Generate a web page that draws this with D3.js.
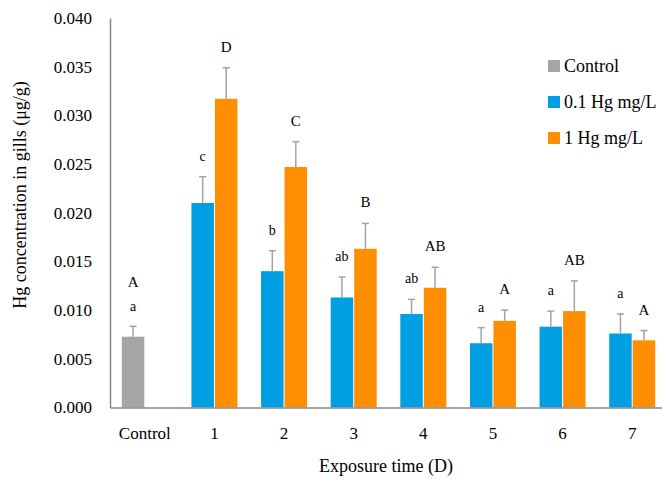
<!DOCTYPE html>
<html>
<head>
<meta charset="utf-8">
<script src="https://cdn.jsdelivr.net/npm/d3@7"></script>
<style>
  body { margin: 0; background: #fff; }
  svg text { font-family: 'Liberation Serif', 'Times New Roman', serif; fill: #000; }
</style>
</head>
<body>
<div id="chart"></div>
<script>
const categories = ['Control', '1', '2', '3', '4', '5', '6', '7'];
const yTicks = [0, 0.005, 0.010, 0.015, 0.020, 0.025, 0.030, 0.035, 0.040];

// control group
const controlMean = 0.00727;
const controlErr = 0.00106;
const controlLetters = ['a', 'A'];

// 0.1 Hg mg/L, days 1-7
const lowMean = [0.0210, 0.0140, 0.0113, 0.0096, 0.0066, 0.0083, 0.0076];
const lowErr = [0.0027, 0.0021, 0.0021, 0.0015, 0.0016, 0.0016, 0.0020];
const lowLetters = ['c', 'b', 'ab', 'ab', 'a', 'a', 'a'];

// 1 Hg mg/L, days 1-7
const highMean = [0.0317, 0.0247, 0.0163, 0.0123, 0.0089, 0.0099, 0.0069];
const highErr = [0.0032, 0.0026, 0.0026, 0.0021, 0.0011, 0.0031, 0.0010];
const highLetters = ['D', 'C', 'B', 'AB', 'A', 'AB', 'A'];

const legendItems = ['Control', '0.1 Hg mg/L', '1 Hg mg/L'];
const colors = { control: '#a5a5a5', low: '#009fe3', high: '#ff8f00' };

// build bar rows from the arrays above
const bars = [{ cat: 'Control', slot: 'low', value: controlMean, err: controlErr, key: 'control' }];
for (let i = 0; i < lowMean.length; i += 1) {
  bars.push({ cat: categories[i + 1], slot: 'low', value: lowMean[i], err: lowErr[i], key: 'low', letter: lowLetters[i] });
  bars.push({ cat: categories[i + 1], slot: 'high', value: highMean[i], err: highErr[i], key: 'high', letter: highLetters[i] });
}

const width = 662;
const height = 483;
const left = 110;
const bottom = 407.5;
const serif = "'Liberation Serif', 'Times New Roman', serif";

const svg = d3.select('#chart').append('svg')
  .attr('width', width)
  .attr('height', height)
  .attr('font-family', serif);

const x = d3.scaleBand()
  .domain(categories)
  .range([left, 667]);

const barW = 23.5;
const xSub = d3.scaleBand()
  .domain(['low', 'high'])
  .range([x.bandwidth() / 2 - barW, x.bandwidth() / 2 + barW]);

const y = d3.scaleLinear()
  .domain([0, 0.04])
  .range([bottom, 18]);

// bars
svg.selectAll('.bar')
  .data(bars)
  .enter()
  .append('rect')
    .attr('class', 'bar')
    .attr('x', d => x(d.cat) + xSub(d.slot) + 0.5)
    .attr('width', xSub.bandwidth() - 1)
    .attr('y', d => y(d.value))
    .attr('height', d => y(0) - y(d.value))
    .attr('fill', d => colors[d.key]);

// error bars
const cx = d => x(d.cat) + xSub(d.slot) + xSub.bandwidth() / 2;
svg.selectAll('.err')
  .data(bars)
  .enter()
  .append('line')
    .attr('class', 'err')
    .attr('x1', cx)
    .attr('x2', cx)
    .attr('y1', d => y(d.value))
    .attr('y2', d => y(d.value + d.err))
    .attr('stroke', '#a3a3a3')
    .attr('stroke-width', 1.5);

svg.selectAll('.cap')
  .data(bars)
  .enter()
  .append('line')
    .attr('class', 'cap')
    .attr('x1', d => cx(d) - 3.5)
    .attr('x2', d => cx(d) + 3.5)
    .attr('y1', d => y(d.value + d.err))
    .attr('y2', d => y(d.value + d.err))
    .attr('stroke', '#a3a3a3')
    .attr('stroke-width', 1.5);

// significance letters
svg.selectAll('.letter')
  .data(bars.filter(d => d.letter))
  .enter()
  .append('text')
    .attr('class', 'letter')
    .attr('x', cx)
    .attr('y', d => y(d.value + d.err) - 16)
    .attr('text-anchor', 'middle')
    .style('font-size', d => (d.letter === d.letter.toUpperCase() ? '15px' : '14px'))
    .text(d => d.letter);

const control = bars[0];
controlLetters.forEach(function (l, i) {
  svg.append('text')
    .attr('x', cx(control))
    .attr('y', y(control.value + control.err) - 15 - i * 24)
    .attr('text-anchor', 'middle')
    .style('font-size', i === 0 ? '14px' : '15px')
    .text(l);
});

// axes
const yAxis = svg.append('g')
  .attr('transform', `translate(${left},0)`)
  .call(d3.axisLeft(y).tickValues(yTicks).tickFormat(d3.format('.3f')).tickSize(0).tickSizeOuter(0).tickPadding(18))
  .attr('font-family', serif)
  .attr('font-size', 17);

yAxis.select('.domain').attr('stroke', '#888').attr('stroke-width', 1.5);
yAxis.selectAll('text').attr('fill', '#000');

const xAxis = svg.append('g')
  .attr('transform', `translate(0,${bottom})`)
  .call(d3.axisBottom(x).tickSize(0).tickSizeOuter(0).tickPadding(19))
  .attr('font-family', serif)
  .attr('font-size', 17);

xAxis.select('.domain').attr('stroke', '#888').attr('stroke-width', 1.5);
xAxis.selectAll('text').attr('fill', '#000');

// axis titles
svg.append('text')
  .attr('x', 386)
  .attr('y', 472)
  .attr('text-anchor', 'middle')
  .style('font-size', '18px')
  .text('Exposure time (D)');

svg.append('text')
  .attr('transform', 'translate(26,195) rotate(-90)')
  .attr('text-anchor', 'middle')
  .style('font-size', '18px')
  .text('Hg concentration in gills (μg/g)');

// legend
const legend = svg.selectAll('.legend')
  .data(legendItems)
  .enter()
  .append('g')
    .attr('class', 'legend')
    .attr('transform', (d, i) => `translate(548,${66 + i * 36})`);

legend.append('rect')
  .attr('x', 0)
  .attr('y', -6)
  .attr('width', 12)
  .attr('height', 12)
  .attr('fill', (d, i) => [colors.control, colors.low, colors.high][i]);

legend.append('text')
  .attr('x', 16)
  .attr('y', 6)
  .style('font-size', '18px')
  .text(d => d);
</script>
</body>
</html>
